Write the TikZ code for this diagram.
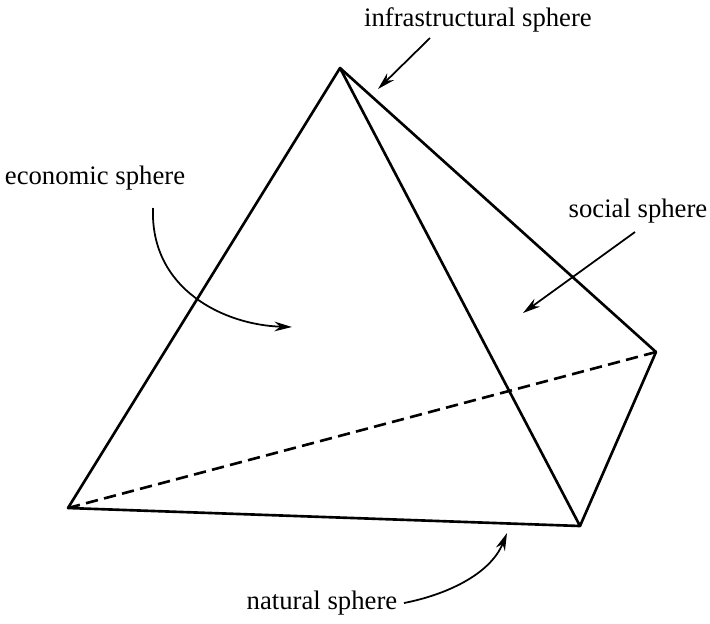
\documentclass[tikz,border=0pt]{standalone}
\usepackage{fontspec}
\setmainfont{Liberation Serif}
\usetikzlibrary{arrows.meta}

\begin{document}
\begin{tikzpicture}[x=0.02cm,y=-0.02cm,
  edge/.style={line width=1.5pt, line join=round},
  pointer/.style={-{Stealth[length=10pt,width=5.5pt]}, line width=1pt},
  lbl/.style={font=\fontsize{15.2}{18}\selectfont, inner sep=1pt}]
\useasboundingbox (0,0) rectangle (710,623);

% corners of the tetrahedron
\coordinate (apex) at (340,68);
\coordinate (left) at (68,508);
\coordinate (front) at (580,526);
\coordinate (back) at (656,352);

\draw[edge] (left) -- (apex) -- (front) -- cycle;
\draw[edge] (apex) -- (back) -- (front);
\draw[edge, dash pattern=on 7pt off 3.6pt] (left) -- (back);

% labels
\node[lbl] (infra) at (478,20) {infrastructural sphere};
\node[lbl] (econ) at (95,178) {economic sphere};
\node[lbl] (social) at (638,211) {social sphere};
\node[lbl] (natural) at (322,603) {natural sphere};

% arrow ends
\coordinate (infraS) at (430,38);
\coordinate (infraE) at (378,89);
\coordinate (econS) at (153,208);
\coordinate (econE) at (292,327);
\coordinate (socialS) at (635,232);
\coordinate (socialE) at (523,313);
\coordinate (natS) at (404,603);
\coordinate (natE) at (507,533);

\draw[pointer] (infraS) -- (infraE);
\draw[pointer] (econS) .. controls (150,290) and (225,325) .. (econE);
\draw[pointer] (socialS) -- (socialE);
\draw[pointer] (natS) .. controls (445,595) and (490,575) .. (natE);
\end{tikzpicture}
\end{document}
